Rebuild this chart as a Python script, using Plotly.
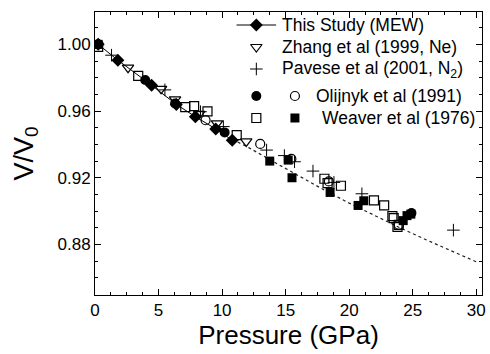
import plotly.graph_objects as go

# ---- data ----
mew_p = [0.25, 1.8, 4.45, 6.4, 7.9, 9.5, 10.8]
mew_v = [1.000, 0.9905, 0.9755, 0.9640, 0.9566, 0.9493, 0.9425]

fit_p = [10.8, 12, 14, 16, 18, 20, 22, 24, 26, 28, 30]
fit_v = [0.9430, 0.9385, 0.9298, 0.9212, 0.9128, 0.9048, 0.8972, 0.8900, 0.8830, 0.8762, 0.8696]

zhang_p = [2.6, 5.2, 6.3, 8.2, 9.6, 11.9]
zhang_v = [0.9860, 0.9733, 0.9670, 0.9583, 0.9526, 0.9418]

pavese_p = [1.3, 5.5, 8.3, 10.1, 13.5, 14.9, 15.7, 17.15, 18.8, 21.0, 28.2]
pavese_v = [0.9935, 0.9727, 0.9596, 0.9507, 0.9366, 0.9333, 0.9296, 0.9240, 0.9172, 0.9104, 0.8886]

olij_f_p = [0.25, 3.95, 6.3, 10.2, 24.9]
olij_f_v = [1.000, 0.9786, 0.9645, 0.9472, 0.8988]

olij_o_p = [8.7, 13.0, 15.45, 18.4, 23.9]
olij_o_v = [0.9545, 0.9403, 0.9313, 0.9178, 0.8918]

weav_o_p = [0.25, 3.4, 7.1, 7.8, 8.85, 11.15, 18.05, 18.3, 19.35, 21.95, 22.75, 23.4, 23.5, 23.9, 23.8]
weav_o_v = [0.9985, 0.9811, 0.9624, 0.9630, 0.9598, 0.9456, 0.9194, 0.9168, 0.9152, 0.9064, 0.9034, 0.8970, 0.8958, 0.8918, 0.8906]

weav_f_p = [0.25, 13.75, 15.2, 15.5, 18.5, 20.7, 21.15, 24.25, 24.55, 24.85]
weav_f_v = [1.000, 0.9300, 0.9306, 0.9200, 0.9112, 0.9034, 0.9062, 0.8943, 0.8973, 0.8982]

legend_labels = ["This Study (MEW)", "Zhang et al (1999, Ne)",
                 "Pavese et al (2001, N<sub>2</sub>)", "Olijnyk et al (1991)",
                 "Weaver et al (1976)"]

FONT = "Arial, Liberation Sans, sans-serif"
K = "black"

fig = go.Figure()

fig.add_trace(go.Scatter(x=fit_p, y=fit_v, mode="lines",
                         line=dict(color="#222", width=1.2, dash="dot"), hoverinfo="skip"))
fig.add_trace(go.Scatter(x=mew_p, y=mew_v, mode="lines",
                         line=dict(color=K, width=1)))
fig.add_trace(go.Scatter(x=weav_o_p, y=weav_o_v, mode="markers",
                         marker=dict(symbol="square-open", size=9, color=K, line=dict(width=1.2))))
fig.add_trace(go.Scatter(x=olij_o_p, y=olij_o_v, mode="markers",
                         marker=dict(symbol="circle-open", size=9, color=K, line=dict(width=1.2))))
fig.add_trace(go.Scatter(x=zhang_p, y=zhang_v, mode="markers",
                         marker=dict(symbol="triangle-down-open", size=10, color=K, line=dict(width=1.2))))
fig.add_trace(go.Scatter(x=pavese_p, y=pavese_v, mode="markers",
                         marker=dict(symbol="cross-thin-open", size=9, color=K, line=dict(width=1))))
fig.add_trace(go.Scatter(x=weav_f_p, y=weav_f_v, mode="markers",
                         marker=dict(symbol="square", size=9, color=K)))
fig.add_trace(go.Scatter(x=olij_f_p, y=olij_f_v, mode="markers",
                         marker=dict(symbol="circle", size=10, color=K)))
fig.add_trace(go.Scatter(x=mew_p, y=mew_v, mode="markers",
                         marker=dict(symbol="diamond", size=10, color=K)))

# ---- custom legend on an overlay axis measured in pixels ----
L = 95; R = 486; T = 12; B = 295
rows = [25, 47, 69, 96, 118]
c1, c2 = 258, 297
lx = dict(xaxis="x2", yaxis="y2", mode="markers", hoverinfo="skip")
fig.add_trace(go.Scatter(x=[238, 278], y=[rows[0], rows[0]], mode="lines",
                         line=dict(color=K, width=1), xaxis="x2", yaxis="y2", hoverinfo="skip"))
fig.add_trace(go.Scatter(x=[c1], y=[rows[0]], marker=dict(symbol="diamond", size=10, color=K), **lx))
fig.add_trace(go.Scatter(x=[c1], y=[rows[1]], marker=dict(symbol="triangle-down-open", size=10, color=K, line=dict(width=1.2)), **lx))
fig.add_trace(go.Scatter(x=[c1], y=[rows[2]], marker=dict(symbol="cross-thin-open", size=9, color=K, line=dict(width=1)), **lx))
fig.add_trace(go.Scatter(x=[c1], y=[rows[3]], marker=dict(symbol="circle", size=10, color=K), **lx))
fig.add_trace(go.Scatter(x=[c2], y=[rows[3]], marker=dict(symbol="circle-open", size=9, color=K, line=dict(width=1.2)), **lx))
fig.add_trace(go.Scatter(x=[c1], y=[rows[4]], marker=dict(symbol="square-open", size=9, color=K, line=dict(width=1.2)), **lx))
fig.add_trace(go.Scatter(x=[c2], y=[rows[4]], marker=dict(symbol="square", size=9, color=K), **lx))

text_x = [282, 282, 282, 316, 322]
annotations = []
for lab, tx, ry in zip(legend_labels, text_x, rows):
    annotations.append(dict(x=tx, y=ry, xref="x2", yref="y2", text=lab, showarrow=False,
                            xanchor="left", yanchor="middle",
                            font=dict(family=FONT, size=17.5, color=K)))

axis_common = dict(showline=True, linecolor=K, linewidth=1, mirror="allticks",
                   ticks="inside", tickcolor=K, tickwidth=1, ticklen=6,
                   showgrid=False, zeroline=False,
                   tickfont=dict(family=FONT, size=17, color=K))

fig.update_layout(
    width=490, height=354,
    margin=dict(l=L, r=490 - R, t=T, b=354 - B),
    paper_bgcolor="white", plot_bgcolor="white",
    showlegend=False,
    annotations=annotations,
    xaxis=dict(range=[0, 30.45], dtick=5, tick0=0,
               minor=dict(dtick=1.25, tick0=0, ticks="inside", ticklen=3, tickcolor=K),
               title=dict(text="Pressure (GPa)", font=dict(family=FONT, size=26, color=K), standoff=3),
               **axis_common),
    yaxis=dict(range=[0.8497, 1.0194], dtick=0.04, tick0=0.88, tickformat=".2f",
               minor=dict(dtick=0.01, tick0=0.88, ticks="inside", ticklen=3, tickcolor=K),
               title=dict(text="V/V<sub>0</sub>", font=dict(family=FONT, size=27, color=K), standoff=16),
               **axis_common),
    xaxis2=dict(overlaying="x", range=[L, R], visible=False),
    yaxis2=dict(overlaying="y", range=[B, T], visible=False),
)

fig.write_html("out.html")
